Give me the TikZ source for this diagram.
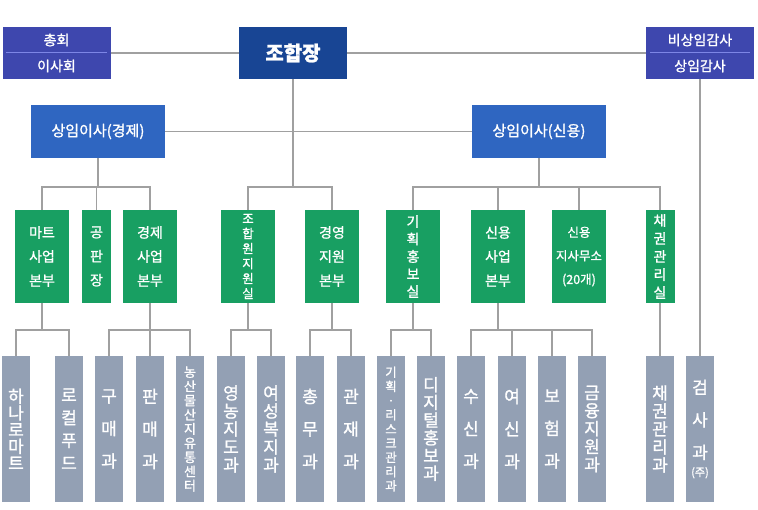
\documentclass[tikz,border=0pt]{standalone}
\usepackage{fontspec}
\setmainfont{Noto Sans CJK KR}[FakeBold=1.2]
\usepackage{xcolor}
\usepackage{tikz}
\usetikzlibrary{positioning, calc}
\definecolor{boardC}{HTML}{3E47AE}
\definecolor{chiefC}{HTML}{184594}
\definecolor{dirC}{HTML}{2F66C1}
\definecolor{deptC}{HTML}{189F62}
\definecolor{teamC}{HTML}{93A0B4}
\definecolor{lineC}{HTML}{A0A0A0}
\definecolor{divC}{HTML}{7D86E6}
\tikzset{
  board/.style={fill=boardC, text=white, minimum width=108pt, minimum height=52pt, inner sep=0pt, align=center, font=\fontsize{14}{26}\selectfont},
  chief/.style={fill=chiefC, text=white, minimum width=108pt, minimum height=52pt, inner sep=0pt, font=\fontsize{20}{22}\selectfont\bfseries},
  director/.style={fill=dirC, text=white, minimum width=134pt, minimum height=53pt, inner sep=0pt, font=\fontsize{15}{17}\selectfont},
  dept/.style={fill=deptC, text=white, minimum width=54pt, minimum height=93pt, inner sep=0pt, align=center, font=\fontsize{14}{24}\selectfont},
  team/.style={fill=teamC, text=white, minimum width=28pt, minimum height=146pt, inner sep=0pt, align=center, font=\fontsize{17}{32.5}\selectfont},
  vfont/.style 2 args={font=\fontsize{#1}{#2}\selectfont},
  link/.style={draw=lineC, line width=1.3pt},
  divider/.style={draw=divC, line width=1pt}
}

\begin{document}
\begin{tikzpicture}[x=1pt, y=-1pt]
        \useasboundingbox (0,0) rectangle (758,510);
        \coordinate (dbus) at (0,187);
        \coordinate (tbus) at (0,330);

        % Top row
        \node[board] (assembly) at (56.5,53) {총회\\이사회};
        \node[chief] (chief) at (293,53) {조합장};
        \node[board] (audit) at (700,53) {비상임감사\\상임감사};
        \draw[divider] ($(assembly.west)+(4,0)$) -- ($(assembly.east)+(-4,0)$);
        \draw[divider] ($(audit.west)+(4,0)$) -- ($(audit.east)+(-4,0)$);

        % Directors
        \node[director] (ecodir) at (98,131.5) {상임이사(경제)};
        \node[director] (crdir) at (539,131.5) {상임이사(신용)};

        % Departments
        \node[dept] (mart) at (42,256.5) {마트\\사업\\본부};
        \node[dept, minimum width=29pt] (market) at (96.5,256.5) {공\\판\\장};
        \node[dept] (econ) at (150,256.5) {경제\\사업\\본부};
        \node[dept, vfont={12.5}{15}] (member) at (248,256.5) {조\\합\\원\\지\\원\\실};
        \node[dept] (mgmt) at (332,256.5) {경영\\지원\\본부};
        \node[dept, vfont={14}{17.5}] (plan) at (413,256.5) {기\\획\\홍\\보\\실};
        \node[dept] (credit) at (498,256.5) {신용\\사업\\본부};
        \node[dept, vfont={12.5}{23.5}] (branch) at (579,256.5) {신용\\지사무소\\(20개)};
        \node[dept, minimum width=29pt, vfont={14}{18}] (bond) at (660,256.5) {채\\권\\관\\리\\실};

        % Teams
        \node[team, vfont={17}{16.7}] (hanaro) at (16,429) {하\\나\\로\\마\\트};
        \node[team, vfont={17}{22.7}] (local) at (69,429) {로\\컬\\푸\\드};
        \node[team] (buy) at (109,429) {구\\매\\과};
        \node[team] (sell) at (150,429) {판\\매\\과};
        \node[team, vfont={13}{14.2}] (apc) at (190,429) {농\\산\\물\\산\\지\\유\\통\\센\\터};
        \node[team, vfont={17}{18}] (farm) at (231,429) {영\\농\\지\\도\\과};
        \node[team, vfont={17}{18}] (women) at (271,429) {여\\성\\복\\지\\과};
        \node[team] (general) at (310,429) {총\\무\\과};
        \node[team] (asset) at (351,429) {관\\재\\과};
        \node[team, vfont={12.5}{14.2}] (risk) at (391,429) {기\\획\\·\\리\\스\\크\\관\\리\\과};
        \node[team, vfont={17}{17.7}] (digital) at (431,429) {디\\지\\털\\홍\\보\\과};
        \node[team] (deposit) at (471,429) {수\\신\\과};
        \node[team] (loan) at (512,429) {여\\신\\과};
        \node[team] (insure) at (552,429) {보\\험\\과};
        \node[team, vfont={17}{18}] (finance) at (592,429) {금\\융\\지\\원\\과};
        \node[team, vfont={17}{18}] (bondteam) at (660,429) {채\\권\\관\\리\\과};
        \node[team] (exam) at (700,429) {검\\사\\과\\[-15pt]{\fontsize{11}{11}\selectfont (주)}};

        % Top links
        \draw[link] (assembly.east) -- (chief.west);
        \draw[link] (chief.east) -- (audit.west);
        \draw[link] (ecodir.east) -- (crdir.west);
        \draw[link] (audit.south) -- (exam.north);

        % Director links
        \foreach \d in {mart, market, econ}
          \draw[link] (ecodir.south) |- (\d.north |- dbus) -- (\d.north);
        \foreach \d in {member, mgmt}
          \draw[link] (chief.south) |- (\d.north |- dbus) -- (\d.north);
        \foreach \d in {plan, credit, branch, bond}
          \draw[link] (crdir.south) |- (\d.north |- dbus) -- (\d.north);

        % Team links
        \foreach \p/\t in {mart/hanaro, mart/local, econ/buy, econ/sell, econ/apc,
                           member/farm, member/women, mgmt/general, mgmt/asset,
                           plan/risk, plan/digital, credit/deposit, credit/loan,
                           credit/insure, credit/finance}
          \draw[link] (\p.south) |- (\t.north |- tbus) -- (\t.north);
        \draw[link] (bond.south) -- (bondteam.north);
    \end{tikzpicture}
\end{document}
